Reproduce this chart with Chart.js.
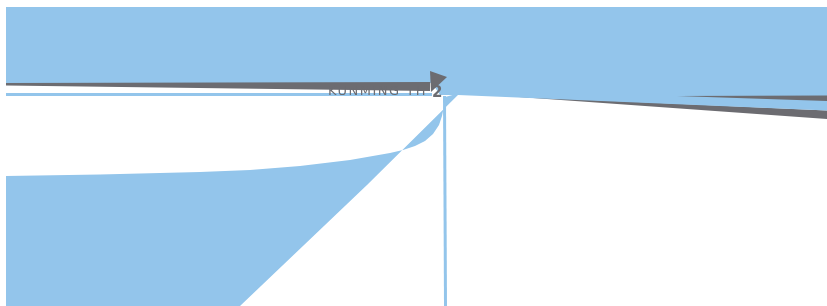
<!DOCTYPE html>
<html>
<head>
<meta charset="utf-8">
<script src="https://cdn.jsdelivr.net/npm/chart.js@4.4.1/dist/chart.umd.min.js"></script>
<style>
  html, body { margin: 0; padding: 0; background: #fff; }
  canvas { display: block; }
</style>
</head>
<body>
<canvas id="chart" width="827" height="306"></canvas>
<script>
// values (x across, y down)
const topAreaX = [6, 827, 827, 458, 440, 432, 6];
const topAreaY = [7, 7, 110.5, 95, 95, 83, 83];

const leftBandX = [6, 430, 430, 6];
const leftBandY = [83, 82, 91, 85.5];

const wedgeX = [430, 447, 431];
const wedgeY = [71, 77, 92];

const thinLineX = [6, 432];
const thinLineY = [94.5, 94.5];

const curveX = [6, 100, 200, 250, 300, 350, 390, 403, 415, 425, 433, 439, 442, 444, 445, 460, 367, 240, 6];
const curveY = [176, 174.5, 172, 170, 166, 160, 153, 150, 146, 141, 134, 125, 116, 106, 97, 93, 185, 306, 306];

const dropX = [444.5, 445.5];
const dropY = [96, 306];

const rightUpperX = [677, 827, 827];
const rightUpperY = [96, 95.5, 101];

const rightLowerX = [505, 827, 827];
const rightLowerY = [96, 110.5, 119];

const labelText = 'KUNMING TH';

const blue = 'rgb(147,197,235)';
const grey = 'rgb(108,108,113)';

function pts(xs, ys) {
  return xs.map((x, i) => ({ x: x, y: ys[i] }));
}

function shape(xs, ys, color, order) {
  return {
    data: pts(xs, ys),
    backgroundColor: color,
    borderColor: 'transparent',
    borderWidth: 0,
    pointRadius: 0,
    tension: 0,
    fill: 'shape',
    order: order
  };
}

function stroke(xs, ys, color, width, order) {
  return {
    data: pts(xs, ys),
    borderColor: color,
    borderWidth: width,
    pointRadius: 0,
    fill: false,
    order: order
  };
}

const labelPlugin = {
  id: 'label',
  afterDatasetsDraw(chart) {
    const ctx = chart.ctx;
    const x = chart.scales.x;
    const y = chart.scales.y;
    ctx.save();
    ctx.fillStyle = grey;
    ctx.font = '13px "DejaVu Sans"';
    ctx.letterSpacing = '1.5px';
    ctx.textAlign = 'right';
    ctx.textBaseline = 'alphabetic';
    ctx.fillText(labelText, x.getPixelForValue(427), y.getPixelForValue(95));
    ctx.letterSpacing = '0px';
    ctx.font = 'bold 15px "DejaVu Sans"';
    ctx.textAlign = 'left';
    ctx.fillText('2', x.getPixelForValue(432), y.getPixelForValue(97));
    ctx.restore();
  }
};

new Chart(document.getElementById('chart'), {
  type: 'line',
  data: {
    datasets: [
      shape(curveX, curveY, blue, 8),
      shape(rightLowerX, rightLowerY, grey, 7),
      shape(topAreaX, topAreaY, blue, 6),
      shape(leftBandX, leftBandY, grey, 5),
      shape(wedgeX, wedgeY, grey, 4),
      shape(rightUpperX, rightUpperY, grey, 3),
      stroke(thinLineX, thinLineY, blue, 3, 2),
      stroke(dropX, dropY, blue, 3, 1)
    ]
  },
  options: {
    responsive: false,
    animation: false,
    devicePixelRatio: 1,
    layout: { padding: 0 },
    plugins: {
      legend: { display: false },
      tooltip: { enabled: false },
      title: { display: false }
    },
    scales: {
      x: { type: 'linear', min: 0, max: 827, display: false },
      y: { type: 'linear', min: 0, max: 306, reverse: true, display: false }
    }
  },
  plugins: [labelPlugin]
});
</script>
</body>
</html>
